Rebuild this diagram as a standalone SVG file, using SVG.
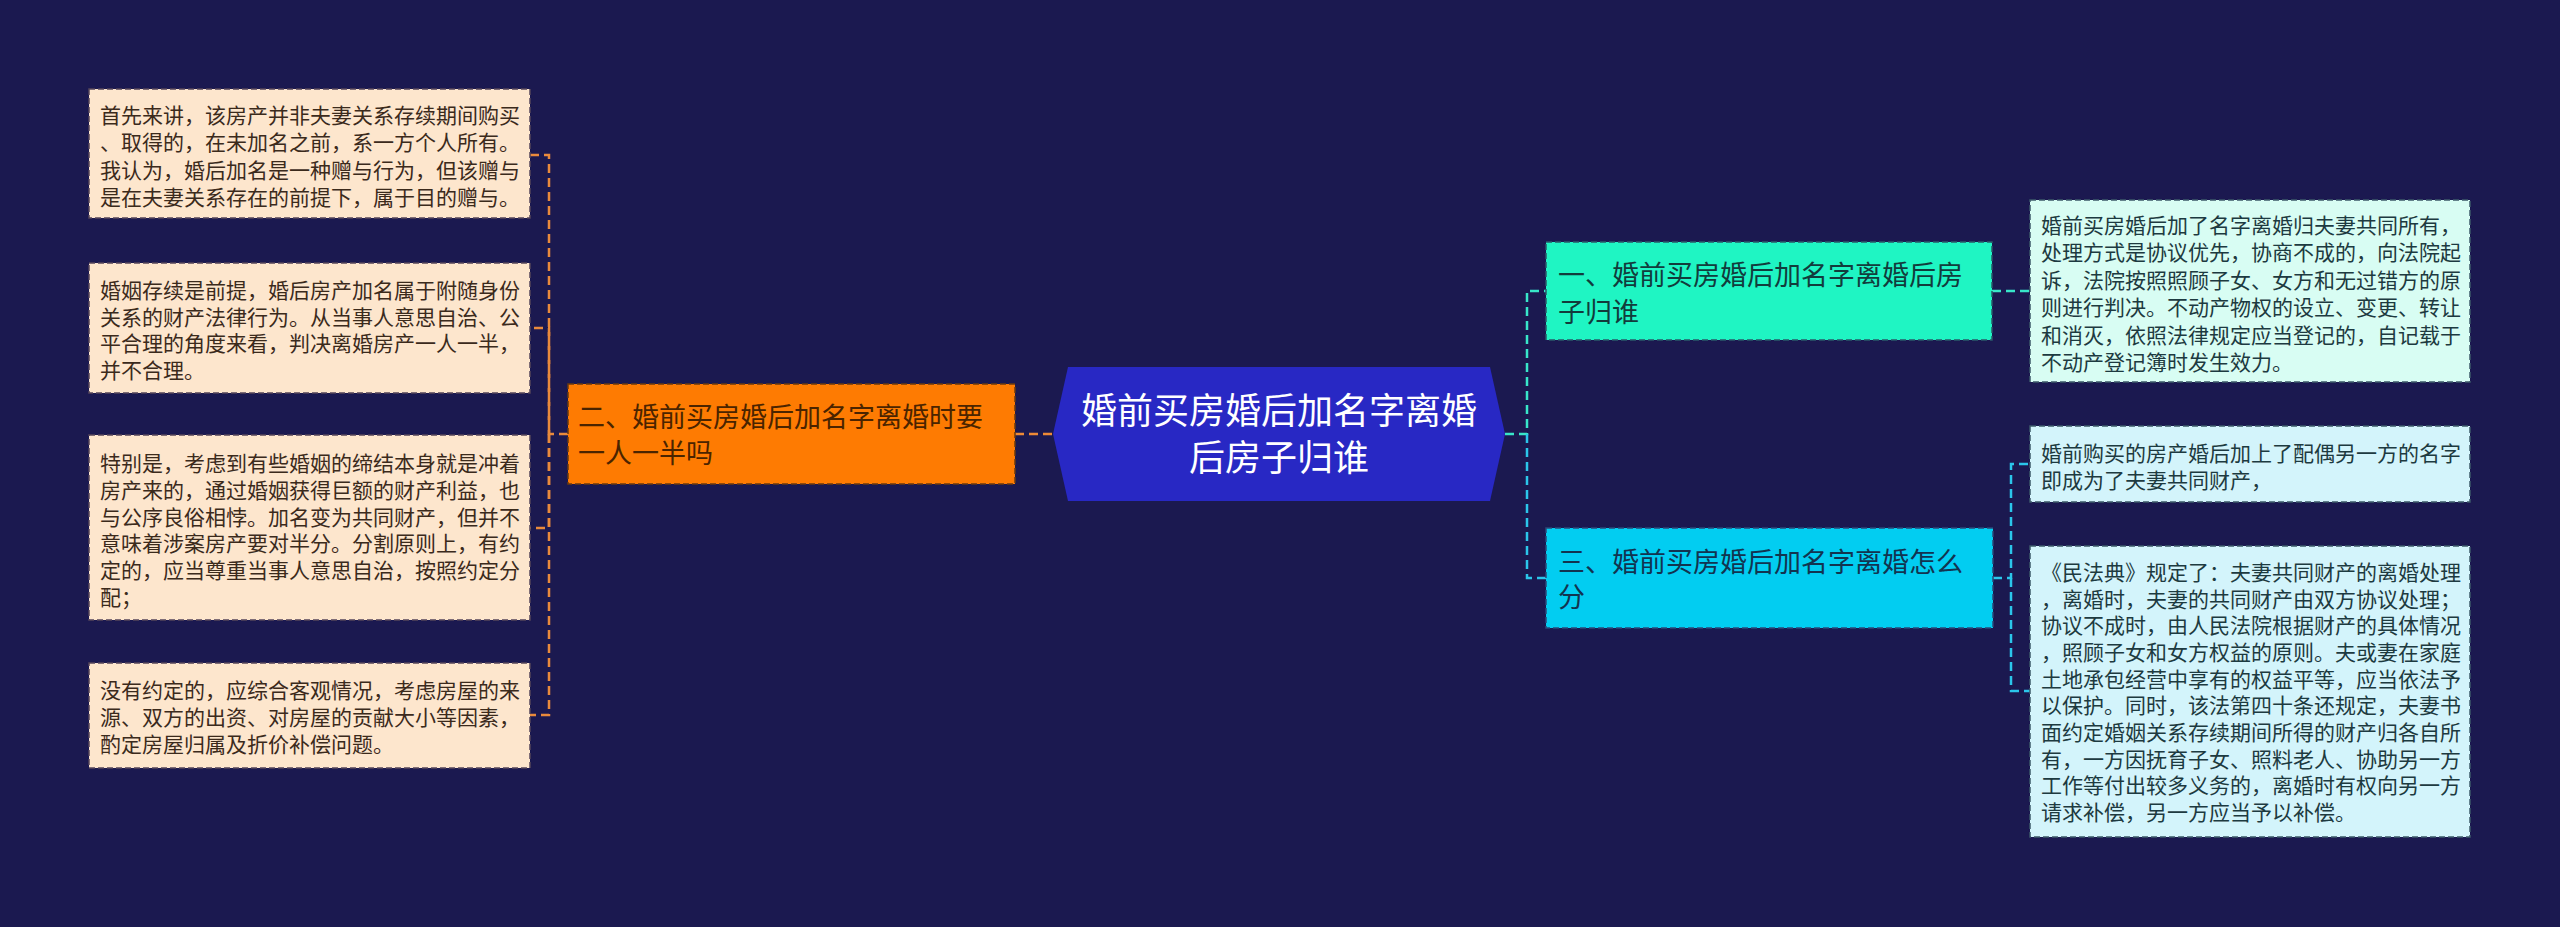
<svg xmlns="http://www.w3.org/2000/svg" width="2560" height="927" viewBox="0 0 2560 927">
<style>
text{font-family:"Noto Sans CJK SC","Noto Sans",sans-serif;}
.leafL{fill:#fde6cd;stroke:#55465a;stroke-width:1.5;stroke-dasharray:6 3;}
.leafR1{fill:#d8fdf3;stroke:#3d5a6a;stroke-width:1.5;stroke-dasharray:6 3;}
.leafR2{fill:#d3f4fb;stroke:#3d5a6a;stroke-width:1.5;stroke-dasharray:6 3;}
.tL{font-size:21px;fill:#3b2a1c;}
.tR{font-size:21px;fill:#1d3a40;}
.tB{font-size:27px;}
.c{fill:none;stroke-width:2.5;stroke-dasharray:9 5;}
</style>
<rect x="0" y="0" width="2560" height="927" fill="#1b1950"/>
<g id="connectors">
<path class="c" stroke="#ee8a36" d="M1052 434 H1015"/>
<path class="c" stroke="#e98a3c" d="M568 434 H549 V155 H530"/>
<path class="c" stroke="#e98a3c" d="M549 434 V328 H530"/>
<path class="c" stroke="#e98a3c" d="M549 434 V528 H530"/>
<path class="c" stroke="#e98a3c" d="M549 434 V715 H530"/>
<path class="c" stroke="#38e6c9" d="M1505 434 H1527 V291 H1546"/>
<path class="c" stroke="#2bc6ea" d="M1527 434 V578 H1546"/>
<path class="c" stroke="#38e6c9" d="M1992 291 H2030"/>
<path class="c" stroke="#2bc6ea" d="M1993 578 H2011 V464 H2030"/>
<path class="c" stroke="#2bc6ea" d="M2011 578 V691 H2030"/>
</g>
<g id="main">
<polygon points="1053,434 1068,367 1490,367 1505,434 1490,501 1068,501" fill="#2828c4"/>
<text x="1279" y="424" font-size="36" fill="#ffffff" text-anchor="middle">婚前买房婚后加名字离婚</text>
<text x="1279" y="471" font-size="36" fill="#ffffff" text-anchor="middle">后房子归谁</text>
</g>
<g id="branch2">
<rect x="568" y="384" width="447" height="100" fill="#fe7b02" stroke="#6a3a10" stroke-width="1.5" stroke-dasharray="6 3"/>
<text class="tB" x="578" y="427" fill="#4a2400">二、婚前买房婚后加名字离婚时要</text>
<text class="tB" x="578" y="463" fill="#4a2400">一人一半吗</text>
</g>
<g id="branch1">
<rect x="1546" y="242" width="446" height="98" fill="#1ff5c3" stroke="#2a5a6a" stroke-width="1.5" stroke-dasharray="6 3"/>
<text class="tB" x="1558" y="285" fill="#123c3c">一、婚前买房婚后加名字离婚后房</text>
<text class="tB" x="1558" y="322" fill="#123c3c">子归谁</text>
</g>
<g id="branch3">
<rect x="1546" y="528" width="447" height="100" fill="#02cdf1" stroke="#2a4a7a" stroke-width="1.5" stroke-dasharray="6 3"/>
<text class="tB" x="1558" y="572" fill="#123450">三、婚前买房婚后加名字离婚怎么</text>
<text class="tB" x="1558" y="607" fill="#123450">分</text>
</g>
<g id="leafL1">
<rect class="leafL" x="89" y="89" width="441" height="129"/>
<text class="tL" x="100" y="123">首先来讲，该房产并非夫妻关系存续期间购买</text>
<text class="tL" x="100" y="150">、取得的，在未加名之前，系一方个人所有。</text>
<text class="tL" x="100" y="178">我认为，婚后加名是一种赠与行为，但该赠与</text>
<text class="tL" x="100" y="205">是在夫妻关系存在的前提下，属于目的赠与。</text>
</g>
<g id="leafL2">
<rect class="leafL" x="89" y="263" width="441" height="130"/>
<text class="tL" x="100" y="298">婚姻存续是前提，婚后房产加名属于附随身份</text>
<text class="tL" x="100" y="325">关系的财产法律行为。从当事人意思自治、公</text>
<text class="tL" x="100" y="351">平合理的角度来看，判决离婚房产一人一半，</text>
<text class="tL" x="100" y="378">并不合理。</text>
</g>
<g id="leafL3">
<rect class="leafL" x="89" y="435" width="441" height="185"/>
<text class="tL" x="100" y="471">特别是，考虑到有些婚姻的缔结本身就是冲着</text>
<text class="tL" x="100" y="498">房产来的，通过婚姻获得巨额的财产利益，也</text>
<text class="tL" x="100" y="525">与公序良俗相悖。加名变为共同财产，但并不</text>
<text class="tL" x="100" y="551">意味着涉案房产要对半分。分割原则上，有约</text>
<text class="tL" x="100" y="578">定的，应当尊重当事人意思自治，按照约定分</text>
<text class="tL" x="100" y="605">配；</text>
</g>
<g id="leafL4">
<rect class="leafL" x="89" y="663" width="441" height="105"/>
<text class="tL" x="100" y="698">没有约定的，应综合客观情况，考虑房屋的来</text>
<text class="tL" x="100" y="725">源、双方的出资、对房屋的贡献大小等因素，</text>
<text class="tL" x="100" y="752">酌定房屋归属及折价补偿问题。</text>
</g>
<g id="leafR1">
<rect class="leafR1" x="2030" y="200" width="440" height="182"/>
<text class="tR" x="2041" y="233">婚前买房婚后加了名字离婚归夫妻共同所有，</text>
<text class="tR" x="2041" y="260">处理方式是协议优先，协商不成的，向法院起</text>
<text class="tR" x="2041" y="288">诉，法院按照照顾子女、女方和无过错方的原</text>
<text class="tR" x="2041" y="315">则进行判决。不动产物权的设立、变更、转让</text>
<text class="tR" x="2041" y="343">和消灭，依照法律规定应当登记的，自记载于</text>
<text class="tR" x="2041" y="370">不动产登记簿时发生效力。</text>
</g>
<g id="leafR2">
<rect class="leafR2" x="2030" y="426" width="440" height="76"/>
<text class="tR" x="2041" y="461">婚前购买的房产婚后加上了配偶另一方的名字</text>
<text class="tR" x="2041" y="488">即成为了夫妻共同财产，</text>
</g>
<g id="leafR3">
<rect class="leafR2" x="2030" y="546" width="440" height="291"/>
<text class="tR" x="2041" y="580">《民法典》规定了：夫妻共同财产的离婚处理</text>
<text class="tR" x="2041" y="607">，离婚时，夫妻的共同财产由双方协议处理；</text>
<text class="tR" x="2041" y="633">协议不成时，由人民法院根据财产的具体情况</text>
<text class="tR" x="2041" y="660">，照顾子女和女方权益的原则。夫或妻在家庭</text>
<text class="tR" x="2041" y="687">土地承包经营中享有的权益平等，应当依法予</text>
<text class="tR" x="2041" y="713">以保护。同时，该法第四十条还规定，夫妻书</text>
<text class="tR" x="2041" y="740">面约定婚姻关系存续期间所得的财产归各自所</text>
<text class="tR" x="2041" y="767">有，一方因抚育子女、照料老人、协助另一方</text>
<text class="tR" x="2041" y="793">工作等付出较多义务的，离婚时有权向另一方</text>
<text class="tR" x="2041" y="820">请求补偿，另一方应当予以补偿。</text>
</g>
</svg>
